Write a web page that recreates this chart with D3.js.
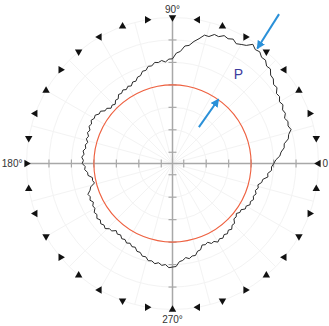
<!DOCTYPE html>
<html><head><meta charset="utf-8">
<script src="https://cdn.jsdelivr.net/npm/d3@7"></script>
<style>html,body{margin:0;padding:0;background:#fff;}svg{display:block;}</style>
</head><body>
<script>
// ---- data ----
const curveAngles = d3.range(0, 360, 2); // degrees, counter-clockwise from east
const curveRadii = [
 4.51,4.60,4.79,4.86,5.02,5.05,5.27,5.33,5.49,5.41,
 5.47,5.38,5.50,5.45,5.57,5.50,5.62,5.58,5.75,5.71,
 5.86,5.88,6.06,6.03,6.19,6.17,6.31,6.27,6.40,6.20,
 6.12,6.04,6.16,6.08,6.14,6.01,6.04,5.88,5.89,5.68,
 5.52,5.31,5.26,5.00,4.92,4.66,4.65,4.53,4.61,4.54,
 4.57,4.44,4.46,4.31,4.32,4.16,4.15,4.01,4.04,3.91,
 3.97,3.88,3.95,3.86,3.90,3.76,3.79,3.67,3.74,3.68,
 3.82,3.81,3.96,3.94,4.06,4.02,4.10,4.01,4.07,3.96,
 4.03,3.93,3.99,3.89,3.97,3.92,4.02,3.96,4.05,3.97,
 4.02,3.89,3.92,3.80,3.80,3.62,3.64,3.58,3.79,3.86,
 4.01,3.95,4.02,3.92,4.02,3.99,4.11,4.06,4.16,4.08,
 4.17,4.10,4.17,4.04,4.04,3.90,3.99,3.93,4.04,3.99,
 4.09,4.02,4.12,4.08,4.22,4.21,4.34,4.32,4.46,4.43,
 4.53,4.46,4.56,4.51,4.64,4.61,4.59,4.38,4.34,4.23,
 4.30,4.21,4.22,4.06,4.04,3.86,3.90,3.84,3.96,3.93,
 4.04,3.95,4.01,3.91,3.97,3.87,3.94,3.82,3.84,3.68,
 3.70,3.61,3.71,3.68,3.82,3.79,3.91,3.86,3.95,3.88,
 3.96,3.88,3.97,3.92,4.06,4.08,4.29,4.26,4.42,4.41];
const refCircleRadius = [3.5];
const tickValues = [0.5,1.5,2.5,3.5,4.5,5.5];
const markerAngles = d3.range(0, 360, 10);
const markerRadius = 6.5;
const gridRadii = [1.5,2.5,3.5,4.5,5.5,6.5];
const gridAngles = d3.range(0, 360, 15);
const angleLabels = [{a:90,t:"90°"},{a:270,t:"270°"},{a:180,t:"180°"},{a:0,t:"0"}];
const arrows = [ {from:[54.5,8.17], to:[53.6,6.36]}, {from:[54.0,2.0], to:[54.4,3.52]} ]; // [angleDeg, radius]
const annotation = {a:53.5, r:4.93, text:"P"};

// ---- layout ----
const W=329,H=326, cx=172.5, cy=163.5;
const r = d3.scaleLinear().domain([0,6.5]).range([0,146]);
const toXY = (deg, rad) => [cx + r(rad)*Math.cos(deg*Math.PI/180), cy - r(rad)*Math.sin(deg*Math.PI/180)];

const svg = d3.select("body").append("svg").attr("width",W).attr("height",H);
const defs = svg.append("defs");
defs.append("marker").attr("id","ah").attr("viewBox","0 0 10 10").attr("refX",9).attr("refY",5)
  .attr("markerWidth",4.2).attr("markerHeight",4.2).attr("orient","auto")
  .append("path").attr("d","M0,0L10,5L0,10Z").attr("fill","#2a90d8");

const g = svg.append("g").attr("transform",`translate(${cx},${cy})`);
// grid
g.selectAll(".gc").data(gridRadii).join("circle").attr("r",d=>r(d))
  .attr("fill","none").attr("stroke","#f3f3f3").attr("stroke-width",1);
g.selectAll(".gl").data(gridAngles).join("line")
  .attr("x1",0).attr("y1",0)
  .attr("x2",d=>r(6.5)*Math.cos(d*Math.PI/180)).attr("y2",d=>-r(6.5)*Math.sin(d*Math.PI/180))
  .attr("stroke","#f3f3f3").attr("stroke-width",1);

// axes
const axisColor="#a8a8a8";
g.append("line").attr("x1",-r(6.5)).attr("x2",r(6.5)).attr("y1",0).attr("y2",0).attr("stroke",axisColor).attr("stroke-width",1.5);
g.append("line").attr("y1",-r(6.5)).attr("y2",r(6.5)).attr("x1",0).attr("x2",0).attr("stroke",axisColor).attr("stroke-width",1.5);
const ticksAll = tickValues.flatMap(v=>[v,-v]);
g.selectAll(".tx").data(ticksAll).join("line").attr("x1",d=>r(Math.abs(d))*Math.sign(d)).attr("x2",d=>r(Math.abs(d))*Math.sign(d))
  .attr("y1",-4).attr("y2",4).attr("stroke",axisColor).attr("stroke-width",1.2);
g.selectAll(".ty").data(ticksAll).join("line").attr("y1",d=>r(Math.abs(d))*Math.sign(d)).attr("y2",d=>r(Math.abs(d))*Math.sign(d))
  .attr("x1",-4).attr("x2",4).attr("stroke",axisColor).attr("stroke-width",1.2);

// reference circle
g.selectAll(".rc").data(refCircleRadius).join("circle").attr("r",d=>r(d))
  .attr("fill","none").attr("stroke","#f0603f").attr("stroke-width",1.1);

// measured curve
const line = d3.lineRadial().angle(d=>(90-d[0])*Math.PI/180).radius(d=>r(d[1])).curve(d3.curveLinearClosed);
g.append("path").datum(curveAngles.map((a,i)=>[a,curveRadii[i]]))
  .attr("d",line).attr("fill","none").attr("stroke","#2a2a2a").attr("stroke-width",1);

// triangle markers
const tri = d3.symbol().type(d3.symbolTriangle).size(24);
g.selectAll(".mk").data(markerAngles).join("path")
  .attr("d",tri)
  .attr("transform",d=>{const x=r(markerRadius)*Math.cos(d*Math.PI/180), y=-r(markerRadius)*Math.sin(d*Math.PI/180);
     const dir=180+3*d; // pointing direction in screen degrees
     return `translate(${x},${y}) rotate(${dir+90})`;})
  .attr("fill","#111");

// labels
const lab = svg.append("g").attr("font-family","Liberation Sans, Arial, sans-serif").attr("font-size",10).attr("fill","#333");
angleLabels.forEach(d=>{
  let x,y,anchor="middle";
  if(d.a===90){x=cx;y=cy-r(6.5)-5;}
  else if(d.a===270){x=cx;y=cy+r(6.5)+13;}
  else if(d.a===180){x=cx-r(6.5)-4;y=cy+3.5;anchor="end";}
  else {x=cx+r(6.5)+4;y=cy+3.5;anchor="start";}
  lab.append("text").attr("x",x).attr("y",y).attr("text-anchor",anchor).text(d.t);
});

// arrows
svg.selectAll(".ar").data(arrows).join("line")
  .attr("x1",d=>toXY(...d.from)[0]).attr("y1",d=>toXY(...d.from)[1])
  .attr("x2",d=>toXY(...d.to)[0]).attr("y2",d=>toXY(...d.to)[1])
  .attr("stroke","#2a90d8").attr("stroke-width",2).attr("marker-end","url(#ah)");

const pp = toXY(annotation.a, annotation.r);
svg.append("text").attr("x",pp[0]).attr("y",pp[1]).attr("text-anchor","middle").attr("dominant-baseline","central")
  .attr("font-family","Liberation Sans, Arial, sans-serif").attr("font-size",14).attr("fill","#3d3d9e").text(annotation.text);
</script>
</body></html>
